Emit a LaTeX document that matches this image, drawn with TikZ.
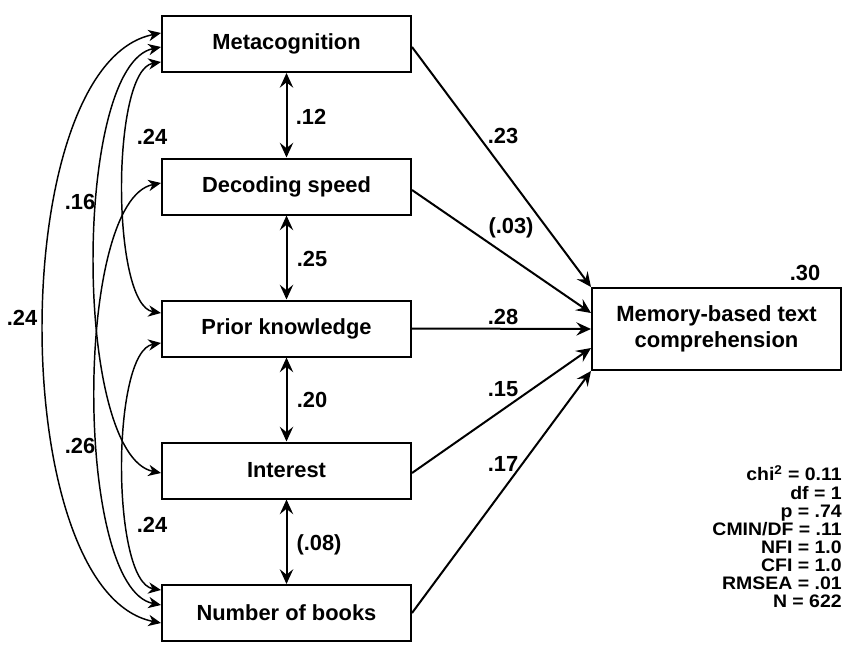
\documentclass[tikz,border=0pt]{standalone}
\usepackage{fontspec}
\usepackage{graphicx}
\setmainfont{Liberation Sans}
\usetikzlibrary{arrows.meta,calc}
\begin{document}
\begin{tikzpicture}[x=0.75pt,y=-0.75pt,
  box/.style={draw, line width=1.5pt, minimum width=186.75pt, minimum height=42pt, inner sep=0pt, font=\bfseries\fontsize{16.4}{19}\selectfont},
  lab/.style={inner sep=0pt, font=\bfseries\fontsize{16.4}{19}\selectfont},
  path/.style={line width=1.5pt, -{Stealth[length=11pt,width=10pt,inset=4pt]}},
  corr/.style={line width=1.5pt, {Stealth[length=11pt,width=10pt,inset=4pt]}-{Stealth[length=11pt,width=10pt,inset=4pt]}},
  curv/.style={line width=1.1pt, {Stealth[length=9.5pt,width=8.5pt,inset=3pt]}-{Stealth[length=9.5pt,width=8.5pt,inset=3pt]}}]
\useasboundingbox (0,0) rectangle (843,646);

% predictor boxes
\node[box] (meta)  at (286.5,44)    {Metacognition};
\node[box] (dec)   at (286.5,186.5) {Decoding speed};
\node[box] (prior) at (286.5,328.5) {Prior knowledge};
\node[box] (int)   at (286.5,470.5) {Interest};
\node[box] (books) at (286.5,613)   {Number of books};

% outcome box
\node[box, minimum height=61.5pt, align=center, font=\bfseries\fontsize{16.5}{19.5}\selectfont] (mem) at (716.5,329) {\raisebox{-2pt}{\begin{tabular}{@{}c@{}}Memory-based text\\comprehension\end{tabular}}};
\node[lab] (r2) at (805,273) {.30};

% adjacent correlations
\draw[corr] (meta.south) -- (dec.north);
\draw[corr] (dec.south) -- (prior.north);
\draw[corr] (prior.south) -- (int.north);
\draw[corr] (int.south) -- (books.north);
\node[lab] (c12) at (311,117) {.12};
\node[lab] (c25) at (312,259) {.25};
\node[lab] (c20) at (312,400) {.20};
\node[lab] (c08) at (319,545) {(.08)};

% paths to outcome
\draw[path] ($(meta.east)+(0,3)$) -- (mem.north west);
\draw[path] ($(dec.east)+(0,3.5)$) -- ($(mem.west)+(0,-16)$);
\draw[path] (prior.east) -- (mem.west);
\draw[path] ($(int.east)+(0,2.5)$) -- ($(mem.west)+(0,19)$);
\draw[path] (books.east) -- (mem.south west);
\node[lab] (p23) at (503,136) {.23};
\node[lab] (p03) at (511,228) {(.03)};
\node[lab] (p28) at (503,317) {.28};
\node[lab] (p15) at (503,389) {.15};
\node[lab] (p17) at (503,464) {.17};

% curved correlations on the left
\draw[curv] ($(meta.west)+(0,-11)$) .. controls +(-156,31) and +(-156,-31) .. ($(books.west)+(0,10)$);
\draw[curv] ($(meta.west)+(0,3)$) .. controls +(-88,18) and +(-88,-18) .. ($(int.west)+(0,2.5)$);
\draw[curv] ($(meta.west)+(0,18)$) .. controls +(-50,8) and +(-50,-8) .. ($(prior.west)+(0,-15.5)$);
\draw[curv] ($(dec.west)+(0,-3.5)$) .. controls +(-87,17) and +(-87,-17) .. ($(books.west)+(0,-8)$);
\draw[curv] ($(prior.west)+(0,14.5)$) .. controls +(-50,8) and +(-50,-8) .. ($(books.west)+(0,-23)$);
\node[lab] (l1) at (22,318) {.24};
\node[lab] (l2) at (80,202) {.16};
\node[lab] (l3) at (152,137) {.24};
\node[lab] (l4) at (80,446) {.26};
\node[lab] (l5) at (152,525) {.24};

% fit statistics
\node[anchor=north east, inner sep=0pt, font=\bfseries\fontsize{14.6}{14.5}\selectfont] (stats) at (842,465)
  {\scalebox{1}[0.93]{\begin{tabular}{@{}r@{}}chi\textsuperscript{2} = 0.11\\df = 1\\p = .74\\CMIN/DF = .11\\NFI = 1.0\\CFI = 1.0\\RMSEA = .01\\N = 622\end{tabular}}};
\end{tikzpicture}
\end{document}
